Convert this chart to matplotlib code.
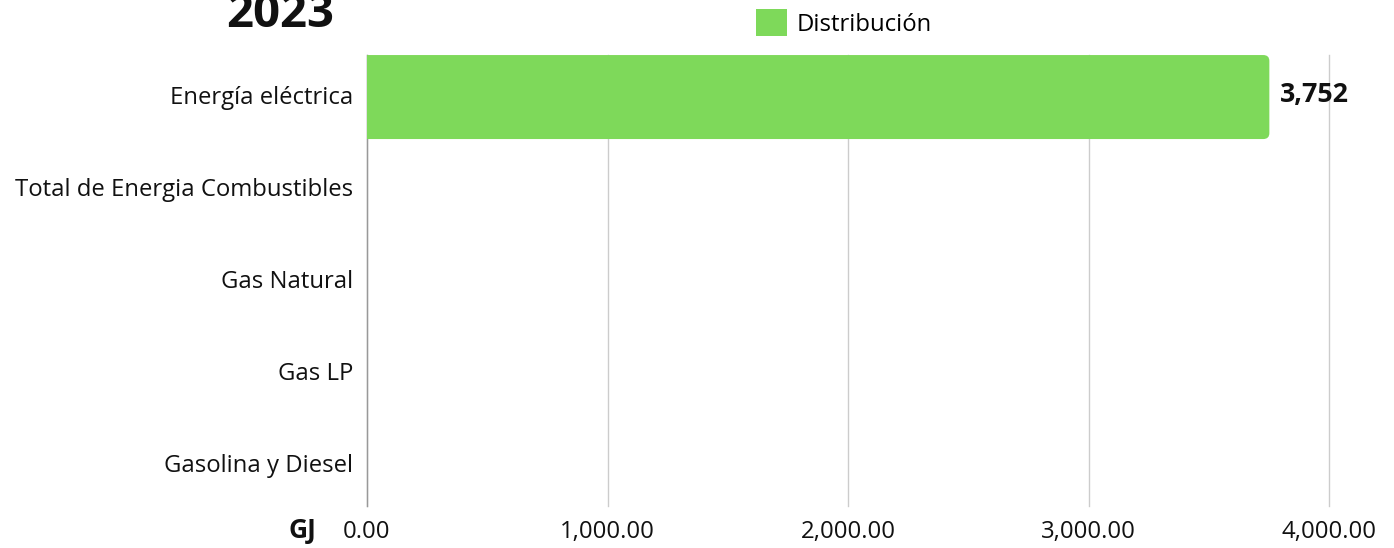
import matplotlib

matplotlib.use("Agg")
import matplotlib.pyplot as plt
from matplotlib.patches import FancyBboxPatch, Patch

plt.rcParams["font.family"] = ["Open Sans", "DejaVu Sans"]

categories = [
    "Energía eléctrica",
    "Total de Energia Combustibles",
    "Gas Natural",
    "Gas LP",
    "Gasolina y Diesel",
]
values = [3752, 0, 0, 0, 0]
series_name = "Distribución"
year = "2023"
unit = "GJ"
xticks = [0, 1000, 2000, 3000, 4000]

bar_color = "#7ED95A"
text_color = "#111111"

fig = plt.figure(figsize=(13.94, 5.48), dpi=100)
ax = fig.add_axes([367 / 1394, 1 - 506 / 548, (1329 - 367) / 1394, (506 - 55) / 548])

ypos = list(range(len(categories)))
bars = ax.barh(ypos, values, height=0.913, color=bar_color, zorder=3)
ax.set_ylim(-0.435 + 451 / 92, -0.435)
ax.set_xlim(0, 4000)

# rounded right end: swap the plain rectangles for rounded boxes
radius_x = 25  # ~6 px in x data units
for bar in bars:
    if bar.get_width() <= 0:
        continue
    bar.set_visible(False)
    box = FancyBboxPatch(
        (bar.get_x() - 2 * radius_x, bar.get_y() + 0.022),
        bar.get_width() + 2 * radius_x,
        bar.get_height(),
        boxstyle=f"round,pad=0,rounding_size={radius_x}",
        mutation_aspect=0.065 / radius_x,
        facecolor=bar_color,
        edgecolor="none",
        zorder=3,
    )
    ax.add_patch(box)

ax.set_yticks(ypos)
ax.set_yticklabels(categories, fontsize=17.2, color=text_color)
ax.set_xticks(xticks)
ax.set_xticklabels([f"{v:,.2f}" for v in xticks], fontsize=17.3, color=text_color)
ax.tick_params(axis="y", length=0, pad=10)
ax.tick_params(axis="x", length=0, pad=10)
ax.grid(axis="x", color="#cccccc", linewidth=1, zorder=0)
for g in ax.get_xgridlines():
    g.set_clip_on(False)
for side in ["top", "right", "bottom"]:
    ax.spines[side].set_visible(False)
ax.spines["left"].set_color("#999999")
ax.spines["left"].set_linewidth(1)

for bar, v in zip(bars, values):
    if v:
        ax.text(v + 45, bar.get_y() + bar.get_height() / 2, f"{v:,}",
                va="center", ha="left", fontsize=19.3, fontweight="bold", color=text_color)

fig.text(280 / 1394, 1 - 27 / 548, year, ha="center", va="baseline",
         fontsize=34, fontweight="bold", color=text_color)
fig.text(302 / 1394, 1 - 530 / 548, unit, ha="center", va="center",
         fontsize=19, fontweight="bold", color=text_color)

fig.legend(handles=[Patch(facecolor=bar_color, label=series_name)],
           loc="center", bbox_to_anchor=(844 / 1394, 1 - 23 / 548), frameon=False,
           fontsize=17.2, handlelength=1.3, handleheight=1.3, handletextpad=0.4)

fig.savefig("out.png", dpi=100)
